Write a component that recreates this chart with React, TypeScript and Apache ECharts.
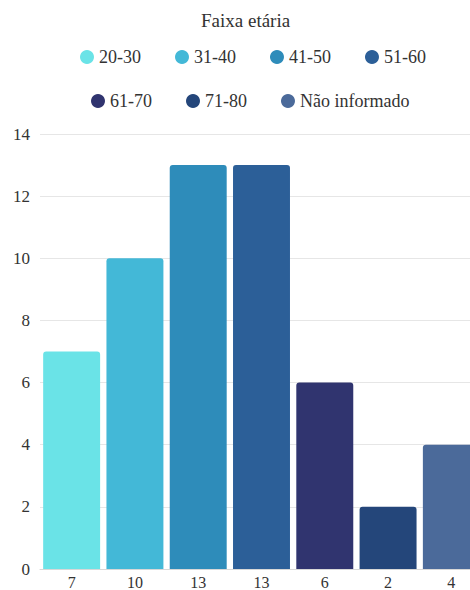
import React, { useEffect, useRef } from "react";
import * as echarts from "echarts";

const titleText = "Faixa etária";
const groups = ["20-30", "31-40", "41-50", "51-60", "61-70", "71-80", "Não informado"];
const counts = [7, 10, 13, 13, 6, 2, 4];
const xLabels = ["7", "10", "13", "13", "6", "2", "4"];
const colors = ["#6ae3e7", "#43b8d7", "#2e8cba", "#2c5f98", "#30346f", "#24467a", "#4b6a9a"];
const yTicks = { min: 0, max: 14, interval: 2 };

const FONT = "'Liberation Serif', serif";

export default function App() {
  const ref = useRef<HTMLDivElement>(null);
  useEffect(() => {
    document.body.style.margin = "0";
    const chart = echarts.init(ref.current!, null, { renderer: "svg" });
    const series = groups.map((g, i) => ({
      name: g,
      type: "bar",
      stack: "all",
      barCategoryGap: "10%",
      data: counts.map((v, j) => (j === i ? v : "-")),
      itemStyle: { color: colors[i], borderRadius: [3, 3, 0, 0] },
    }));
    const legendText = { fontFamily: FONT, fontSize: 18, fontWeight: "normal", color: "#333" };
    const legendCommon = {
      icon: "circle",
      itemWidth: 14,
      itemHeight: 14,
      itemGap: 34,
      padding: 0,
      orient: "horizontal",
      textStyle: legendText,
      selectedMode: false,
    };
    chart.setOption({
      animation: false,
      textStyle: { fontFamily: FONT, fontSize: 17 },
      title: {
        text: titleText,
        left: 201,
        top: 11,
        padding: 0,
        textStyle: { fontFamily: FONT, fontSize: 19, fontWeight: "normal", color: "#333" },
      },
      legend: [
        { ...legendCommon, left: 80, top: 48, data: groups.slice(0, 4) },
        { ...legendCommon, left: 91, top: 92, data: groups.slice(4) },
      ],
      grid: {
        left: 40,
        top: 134,
        width: 443,
        height: 435,
        containLabel: false,
        outerBoundsMode: "none",
      },
      xAxis: {
        type: "category",
        data: xLabels,
        axisTick: { show: false },
        axisLine: { lineStyle: { color: "#d8d8d8" } },
        axisLabel: { fontFamily: FONT, fontSize: 16, fontWeight: "normal", color: "#333", margin: 5 },
      },
      yAxis: {
        type: "value",
        min: yTicks.min,
        max: yTicks.max,
        interval: yTicks.interval,
        axisLine: { show: false },
        axisTick: { show: false },
        splitLine: { lineStyle: { color: "#e6e6e6" } },
        axisLabel: { fontFamily: FONT, fontSize: 17, fontWeight: "normal", color: "#333", margin: 10 },
      },
      series,
    });
    return () => chart.dispose();
  }, []);
  return (
    <>
      <style>{`#chart-root svg text { font-family: 'Liberation Serif', serif !important; }`}</style>
      <div id="chart-root" ref={ref} style={{ width: 470, height: 590 }} />
    </>
  );
}
